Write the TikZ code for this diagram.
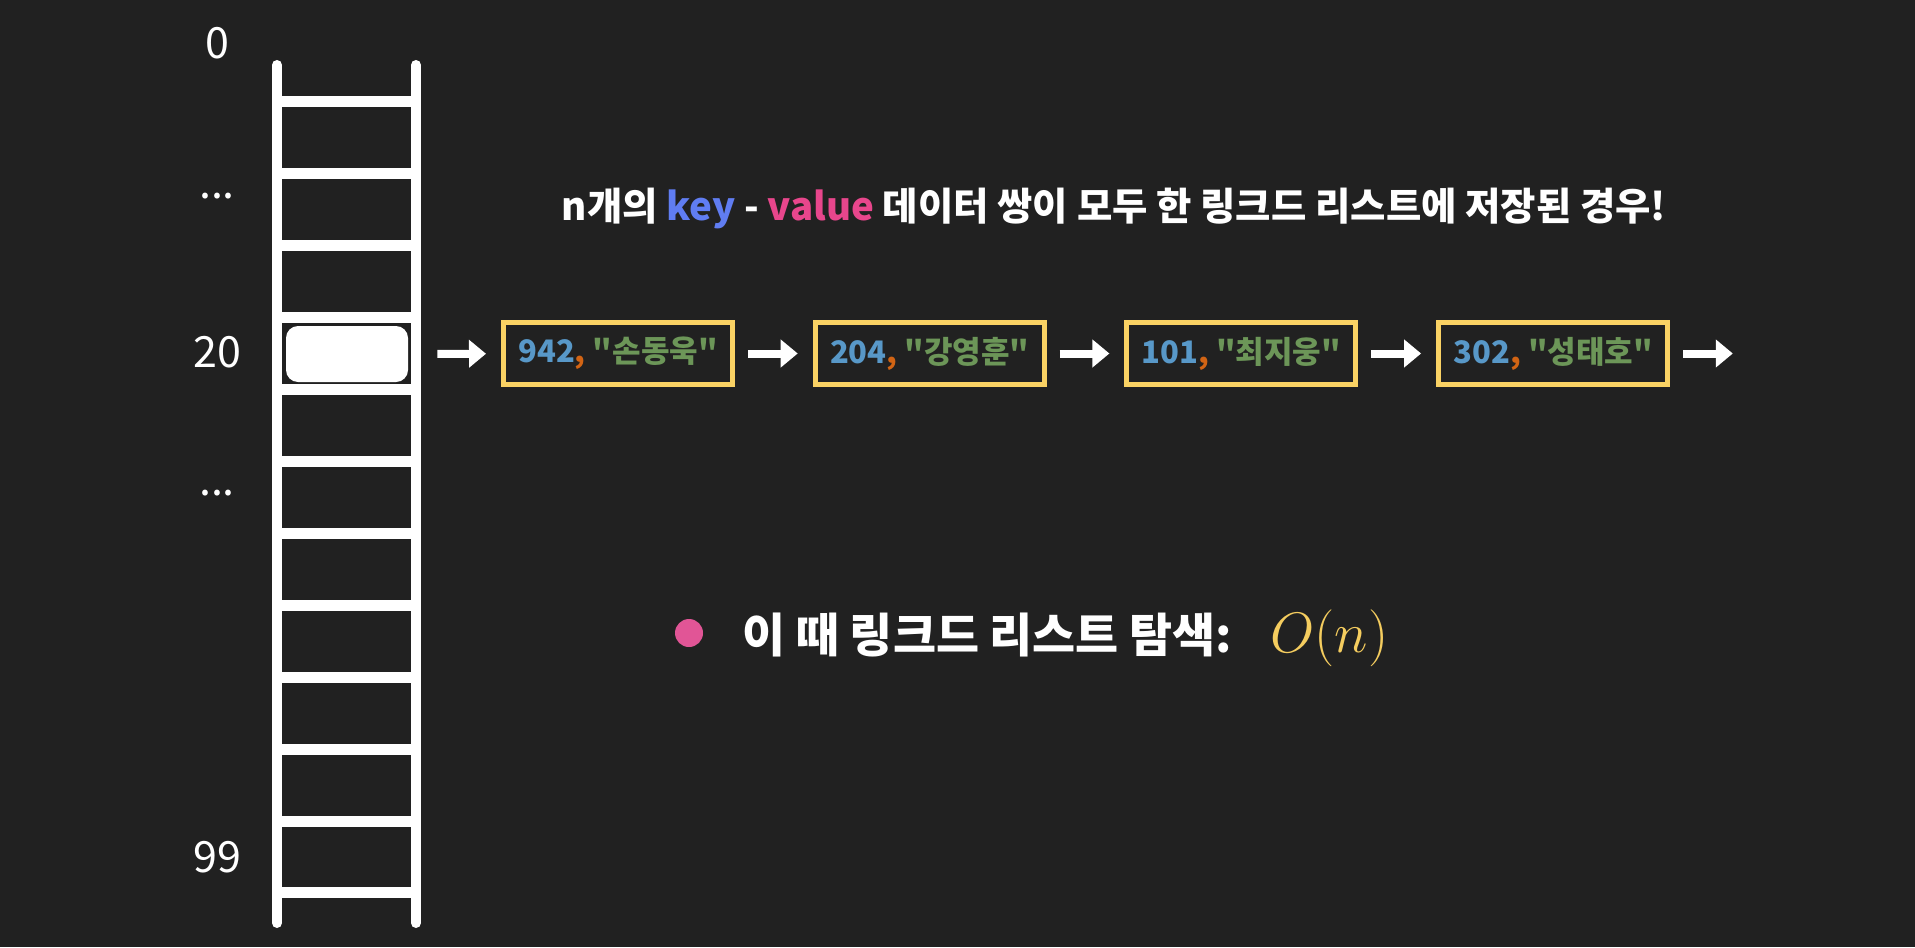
\RequirePackage{fix-cm}
\documentclass[tikz,border=0pt]{standalone}
\usepackage{fontspec}
\setmainfont{Noto Sans CJK KR}
\newfontfamily\kvfont{Noto Sans CJK KR}
\usetikzlibrary{arrows.meta, positioning}
\definecolor{bgcolor}{RGB}{33,33,33}
\definecolor{keyblue}{RGB}{96,125,242}
\definecolor{valuepink}{RGB}{232,70,140}
\definecolor{numblue}{RGB}{88,152,200}
\definecolor{commaorange}{RGB}{210,100,20}
\definecolor{strgreen}{RGB}{108,150,88}
\definecolor{boxyellow}{RGB}{250,210,100}
\definecolor{dotpink}{RGB}{225,85,150}
\definecolor{bigo}{RGB}{245,205,95}
\newcommand{\kv}[2]{\textcolor{numblue}{#1}\textcolor{commaorange}{,} \textcolor{strgreen}{"#2"}}

\begin{document}
\begin{tikzpicture}[x=0.5pt, y=-0.5pt,
    node distance=41.35pt,
    rail/.style={white, line width=5pt, line cap=round},
    rung/.style={white, line width=5.5pt},
    slot/.style={fill=white, minimum width=61pt, minimum height=28pt, rounded corners=6pt, inner sep=0pt},
    idx/.style={white, font=\fontsize{21.5pt}{24pt}\selectfont, inner sep=0pt},
    kvbox/.style={draw=boxyellow, line width=2.5pt, minimum width=114.5pt, minimum height=31pt, inner sep=0pt, outer sep=0pt, font=\kvfont\fontsize{15.5pt}{18pt}\selectfont\bfseries},
    link/.style={white, line width=4pt, -{Triangle[length=8.5pt, width=13.5pt]}, shorten <=7.75pt, shorten >=8.75pt}
]
\fill[bgcolor] (0,0) rectangle (1915,947);

% bucket array
\draw[rail] (277,65) -- (277,923);
\draw[rail] (416,65) -- (416,923);
\foreach \i in {0,...,11}
    \draw[rung] (277,102+71.9*\i) -- (416,102+71.9*\i);
\node[slot] (slot) at (347,354) {};

\node[idx] (i0) at (217,43) {0};
\node[idx, anchor=base] (d1) at (217,198) {...};
\node[idx] (i20) at (217,352) {20};
\node[idx, anchor=base] (d2) at (217,495) {...};
\node[idx] (i99) at (217,857) {99};

% title
\node[white, font=\fontsize{19.2pt}{22pt}\selectfont\bfseries, anchor=base, inner sep=0pt] (title) at (1114,220) {n개의 \textcolor{keyblue}{key} - \textcolor{valuepink}{value} 데이터 쌍이 모두 한 링크드 리스트에 저장된 경우!};

% linked list
\node[kvbox] (k1) at (618,353.5) {\kv{942}{손동욱}};
\node[kvbox, right=of k1] (k2) {\kv{204}{강영훈}};
\node[kvbox, right=of k2] (k3) {\kv{101}{최지웅}};
\node[kvbox, right=of k3] (k4) {\kv{302}{성태호}};
\coordinate[right=of k4] (nil);

\draw[link, shorten <=14.5pt] (slot) -- (k1);
\draw[link] (k1) -- (k2);
\draw[link] (k2) -- (k3);
\draw[link] (k3) -- (k4);
\draw[link] (k4) -- (nil);

% complexity
\node[circle, fill=dotpink, minimum size=14pt, inner sep=0pt] (dot) at (689,633) {};
\node[white, font=\fontsize{23.4pt}{26pt}\selectfont\bfseries, anchor=base west, inner sep=0pt] (search) at (742,652) {이 때 링크드 리스트 탐색:};
\node[bigo, font=\fontsize{28.5pt}{32pt}\selectfont, anchor=base west, inner sep=0pt] (cost) at (1270,652) {$O(n)$};

\end{tikzpicture}
\end{document}
